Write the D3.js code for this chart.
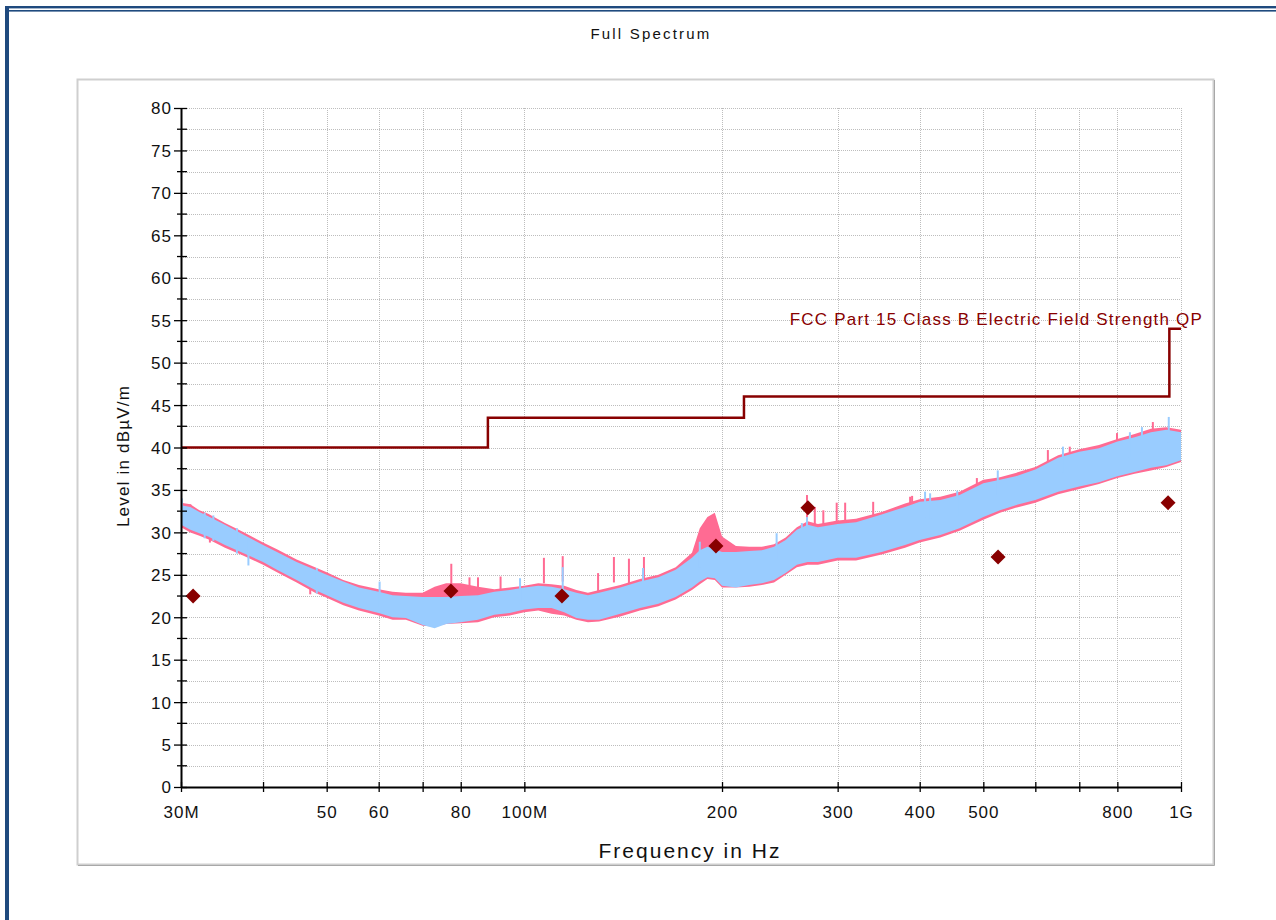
<!DOCTYPE html>
<html>
<head>
<meta charset="utf-8">
<script src="https://cdn.jsdelivr.net/npm/d3@7"></script>
<style>
  html, body { margin: 0; padding: 0; background: #fff; }
  svg { display: block; }
  text { font-family: Arial, "Liberation Sans", sans-serif; }
</style>
</head>
<body>
<svg id="chart" width="1276" height="920"></svg>
<script>
// ---- Frequency grid (MHz) used for the spectrum envelopes ----
const freqNodes = [30, 31, 32, 33, 35, 37, 40, 42, 45, 48, 50, 53, 56, 60, 63, 66, 70, 73, 76, 80,
  85, 90, 95, 100, 105, 110, 115, 120, 125, 130, 140, 150, 160, 170, 180, 185, 190, 195, 200,
  210, 220, 230, 240, 250, 260, 270, 280, 300, 320, 350, 380, 400, 430, 460, 500, 530, 560,
  600, 650, 700, 750, 800, 850, 900, 950, 1000];

// Peak detector trace (pink): upper / lower edge of the band, dBµV/m
const peakHi = [33.5, 33.3, 32.6, 32.2, 31.1, 30.2, 28.8, 28.0, 26.8, 25.9, 25.3, 24.4, 23.8, 23.3, 23.0, 22.9, 22.9, 23.6, 24.0, 24.0,
  23.6, 23.3, 23.5, 23.7, 24.0, 23.9, 23.7, 23.2, 22.9, 23.2, 23.8, 24.5, 25.0, 25.9, 27.6, 30.5, 31.8, 32.3, 29.5,
  28.4, 28.3, 28.3, 28.6, 29.4, 30.6, 31.3, 31.0, 31.4, 31.6, 32.4, 33.4, 33.9, 34.2, 34.8, 36.2, 36.5, 37.0,
  37.7, 39.1, 39.8, 40.3, 41.0, 41.6, 42.2, 42.4, 42.1];
const peakLo = [30.6, 30.0, 29.6, 29.2, 28.2, 27.4, 26.2, 25.3, 24.1, 22.9, 22.3, 21.4, 20.8, 20.2, 19.7, 19.7, 19.0, 18.9, 19.2, 19.3,
  19.4, 20.0, 20.2, 20.6, 20.8, 20.4, 20.2, 19.7, 19.4, 19.5, 20.1, 20.8, 21.3, 22.1, 23.2, 23.9, 24.5, 24.4, 23.5,
  23.5, 23.6, 23.8, 24.1, 25.0, 25.9, 26.2, 26.2, 26.7, 26.7, 27.4, 28.2, 28.8, 29.4, 30.2, 31.5, 32.3, 32.9,
  33.5, 34.5, 35.1, 35.7, 36.4, 36.9, 37.3, 37.7, 38.3];

// Second scan (light blue): upper / lower edge of the band, dBµV/m
const scanHi = [33.2, 33.0, 32.4, 31.9, 30.9, 29.9, 28.5, 27.7, 26.5, 25.6, 25.0, 24.2, 23.5, 23.0, 22.6, 22.5, 22.4, 22.4, 22.4, 22.5,
  22.6, 23.0, 23.2, 23.5, 23.7, 23.6, 23.3, 22.9, 22.6, 22.9, 23.5, 24.2, 24.7, 25.6, 27.0, 27.9, 28.3, 28.0, 27.7,
  27.7, 27.8, 27.9, 28.3, 29.1, 30.3, 30.9, 30.6, 31.0, 31.2, 32.1, 33.0, 33.6, 33.8, 34.4, 35.8, 36.2, 36.6,
  37.4, 38.8, 39.5, 39.9, 40.7, 41.2, 41.8, 42.1, 41.8];
const scanLo = [30.9, 30.3, 29.9, 29.5, 28.5, 27.7, 26.5, 25.6, 24.4, 23.2, 22.6, 21.7, 21.1, 20.5, 20.0, 19.9, 19.1, 18.7, 19.2, 19.4,
  19.7, 20.3, 20.5, 20.9, 21.1, 21.1, 20.6, 19.9, 19.7, 19.7, 20.4, 21.1, 21.6, 22.4, 23.5, 24.2, 24.7, 24.6, 23.7,
  23.5, 23.8, 24.0, 24.4, 25.2, 26.2, 26.5, 26.5, 27.0, 27.0, 27.7, 28.5, 29.1, 29.7, 30.5, 31.8, 32.6, 33.2,
  33.8, 34.8, 35.4, 35.9, 36.6, 37.1, 37.6, 37.9, 38.5];

// Isolated peaks rising above the bands (MHz, dBµV/m)
const peakSpikeFreq = [31.0, 33.2, 47.2, 77.4, 82.5, 85.0, 92.0, 107.1, 114.4, 129.5, 136.9, 144.3, 152.1, 174.2, 269.4, 276.9, 285.3, 299.0, 308.0, 339.8, 386.8, 389.5, 488.8, 627, 677, 799, 906];
const peakSpikeLevel = [33.3, 31.8, 25.7, 26.3, 24.7, 24.7, 24.8, 27.0, 27.2, 25.2, 27.1, 26.9, 27.1, 25.9, 34.4, 33.0, 32.6, 33.5, 33.5, 33.6, 34.2, 34.3, 36.4, 39.7, 40.1, 41.7, 43.0];
const scanSpikeFreq = [30.1, 32.6, 33.6, 36.5, 38.0, 48.3, 60.2, 98.5, 114.4, 151.6, 185.0, 242.2, 264.6, 269.4, 407.6, 414.9, 456.3, 526, 661, 836, 872, 958];
const scanSpikeLevel = [34.0, 32.3, 32.0, 30.5, 29.1, 25.8, 24.2, 24.6, 25.9, 25.8, 28.9, 29.9, 31.1, 31.8, 34.8, 34.6, 34.9, 37.3, 40.1, 41.8, 42.4, 43.6];

// Final quasi-peak measurements
const qpFreq = [31.3, 77.3, 114.1, 195.8, 270.3, 526.5, 955.6];
const qpLevel = [22.5, 23.1, 22.5, 28.4, 32.9, 27.1, 33.5];

// FCC Part 15 Class B limit (step after each frequency)
const limitFreq = [30, 88, 216, 960, 1000];
const limitLevel = [40, 43.5, 46, 54, 54];
const limitName = "FCC Part 15 Class B Electric Field Strength QP";

// Axis ticks
const xTicks = [30, 40, 50, 60, 70, 80, 100, 200, 300, 400, 500, 600, 700, 800, 1000];
const xTickLabels = ["30M", "", "50", "60", "", "80", "100M", "200", "300", "400", "500", "", "", "800", "1G"];
const xGrid = [40, 50, 60, 70, 80, 100, 200, 300, 400, 500, 600, 700, 800, 1000];
const yMajor = d3.range(0, 81, 5);
const yMinor = d3.range(2.5, 80, 5);
const yGrid = d3.range(2.5, 80.1, 2.5);

(function draw() {
  const svg = d3.select("#chart");
  const W = 1276, H = 920;
  const plotLeft = 181, plotRight = 1181, plotTop = 108, plotBottom = 787;

  const x = d3.scaleLog().domain([30, 1000]).range([plotLeft, plotRight]);
  const y = d3.scaleLinear().domain([0, 80]).range([plotBottom, plotTop]);

  const red = "#880000";
  const border = "#1f4a7e";
  const font = "Arial, 'Liberation Sans', sans-serif";

  // Page frame: double rule on top, heavy rule on the left
  svg.append("rect").attr("x", 5).attr("y", 6).attr("width", W).attr("height", 2.4).attr("fill", border);
  svg.append("rect").attr("x", 5).attr("y", 10).attr("width", W).attr("height", 1.6).attr("fill", border);
  svg.append("rect").attr("x", 5).attr("y", 6).attr("width", 4).attr("height", H).attr("fill", border);

  // Chart panel
  svg.append("rect").attr("x", 77.5).attr("y", 79.5).attr("width", 1136).attr("height", 785)
    .attr("fill", "#fff").attr("stroke", "#cfcfcf").attr("stroke-width", 2);
  svg.append("path").attr("d", "M1214.5,80V865.5H78").attr("fill", "none").attr("stroke", "#a8a8a8").attr("stroke-width", 1);

  // Title
  svg.append("text").attr("x", 651).attr("y", 39).attr("text-anchor", "middle")
    .attr("font-size", 15).attr("letter-spacing", 2.2).attr("fill", "#111").text("Full Spectrum");

  // Grid
  const grid = svg.append("g").attr("stroke", "#bdbdbd").attr("stroke-width", 1).attr("stroke-dasharray", "1,1");
  grid.selectAll("line.h").data(yGrid).join("line").attr("class", "h")
    .attr("x1", plotLeft).attr("x2", plotRight)
    .attr("y1", d => Math.round(y(d)) + 0.5).attr("y2", d => Math.round(y(d)) + 0.5);
  grid.selectAll("line.v").data(xGrid).join("line").attr("class", "v")
    .attr("y1", plotTop).attr("y2", plotBottom)
    .attr("x1", d => Math.round(x(d)) + 0.5).attr("x2", d => Math.round(x(d)) + 0.5);

  // Spectrum bands
  const band = (hi, lo) => d3.area()
    .x((d, i) => x(freqNodes[i]))
    .y0((d, i) => y(lo[i]))
    .y1((d, i) => y(hi[i]))(freqNodes);

  const pink = "#ff6b93", blue = "#99ccff";

  svg.append("path").attr("d", band(peakHi, peakLo)).attr("fill", pink);
  svg.append("g").attr("stroke", pink).attr("stroke-width", 2)
    .selectAll("line").data(peakSpikeFreq).join("line")
    .attr("x1", d => x(d)).attr("x2", d => x(d))
    .attr("y1", (d, i) => y(peakSpikeLevel[i] - 3)).attr("y2", (d, i) => y(peakSpikeLevel[i]));

  svg.append("path").attr("d", band(scanHi, scanLo)).attr("fill", blue);
  svg.append("g").attr("stroke", blue).attr("stroke-width", 2)
    .selectAll("line").data(scanSpikeFreq).join("line")
    .attr("x1", d => x(d)).attr("x2", d => x(d))
    .attr("y1", (d, i) => y(scanSpikeLevel[i] - 3)).attr("y2", (d, i) => y(scanSpikeLevel[i]));

  // Limit line
  const limitLine = d3.line().curve(d3.curveStepAfter)
    .x((d, i) => x(limitFreq[i])).y(d => y(d));
  svg.append("path").attr("d", limitLine(limitLevel))
    .attr("fill", "none").attr("stroke", red).attr("stroke-width", 2.5);
  svg.append("text").attr("x", 1203).attr("y", 325).attr("text-anchor", "end")
    .attr("font-size", 17).attr("letter-spacing", 1.2).attr("fill", red).text(limitName);

  // QP markers
  const r = 7.5;
  svg.append("g").selectAll("path").data(qpFreq).join("path")
    .attr("d", (d, i) => {
      const cx = x(d), cy = y(qpLevel[i]);
      return `M${cx},${cy - r}L${cx + r},${cy}L${cx},${cy + r}L${cx - r},${cy}Z`;
    })
    .attr("fill", red);

  // Axes
  const xAxis = svg.append("g").attr("transform", `translate(0,${plotBottom})`)
    .call(d3.axisBottom(x).tickValues(xTicks).tickSize(5).tickSizeOuter(0)
      .tickFormat((d, i) => xTickLabels[i]));
  xAxis.select(".domain").attr("stroke", "#000").attr("stroke-width", 2);
  xAxis.selectAll(".tick line").attr("y1", -5).attr("y2", 5).attr("stroke", "#000").attr("stroke-width", 1.3);
  xAxis.selectAll(".tick text").attr("y", 31).attr("dy", 0).attr("font-size", 17)
    .attr("letter-spacing", 1).attr("fill", "#111").attr("font-family", font);

  const yAxis = svg.append("g").attr("transform", `translate(${plotLeft},0)`)
    .call(d3.axisLeft(y).tickValues(yMajor).tickSize(7).tickSizeOuter(0).tickFormat(d3.format("d")));
  yAxis.select(".domain").attr("stroke", "#000").attr("stroke-width", 2);
  yAxis.selectAll(".tick line").attr("x1", -7).attr("x2", 6).attr("stroke", "#000").attr("stroke-width", 1.3);
  yAxis.selectAll(".tick text").attr("x", -9).attr("dy", "0.35em").attr("font-size", 17)
    .attr("letter-spacing", 1).attr("fill", "#111").attr("font-family", font);
  yAxis.append("g").selectAll("line").data(yMinor).join("line")
    .attr("x1", -4).attr("x2", 6).attr("y1", d => y(d)).attr("y2", d => y(d))
    .attr("stroke", "#000").attr("stroke-width", 1.3);

  // Axis titles
  svg.append("text").attr("x", 690).attr("y", 858).attr("text-anchor", "middle")
    .attr("font-size", 21).attr("letter-spacing", 2).attr("fill", "#111").text("Frequency in Hz");
  svg.append("text").attr("transform", "translate(129,456) rotate(-90)").attr("text-anchor", "middle")
    .attr("font-size", 17).attr("letter-spacing", 1.2).attr("fill", "#111").text("Level in dBµV/m");
})();
</script>
</body>
</html>
